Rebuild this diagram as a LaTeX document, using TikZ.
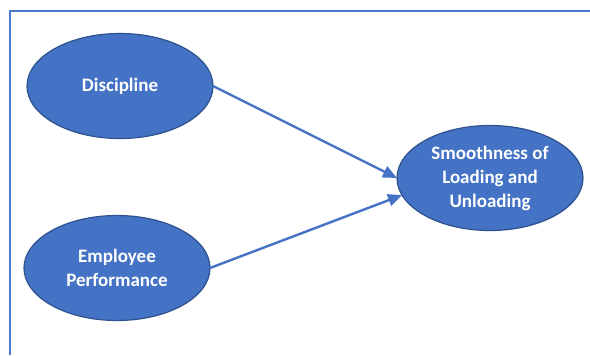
\documentclass[tikz,border=0pt]{standalone}
\usepackage{fontspec}
\setmainfont{Carlito}
\usepackage{xcolor}
\usetikzlibrary{arrows.meta, shapes.geometric, positioning}
\definecolor{varfill}{HTML}{4472C4}
\definecolor{varborder}{HTML}{2F528F}
\definecolor{framecol}{HTML}{4A7BD0}
\tikzset{
  >=latex,
  % Variabili del modello
  var/.style={ellipse,draw=varborder,fill=varfill,line width=0.6pt,text=white,
    font=\bfseries\fontsize{9.5}{12}\selectfont,align=center,
    minimum width=93pt,minimum height=52.5pt,inner sep=0pt,outer sep=0pt},
  % Frecce
  link arrow/.style={-{Triangle[length=7pt,width=6pt]},line width=1.2pt,varfill}
}
\begin{document}
\begin{tikzpicture}[x=0.5pt,y=-0.5pt]
  \useasboundingbox (0,0) rectangle (590,355);
  \fill[white] (0,0) rectangle (590,355);
  \draw[framecol,line width=0.6pt] (10,355) |- (590,11);
  \node[var] (disc) at (120,86) {Discipline};
  \node[var] (emp) at (117,268) {Employee\\Performance};
  \node[var] (smooth) at (490,178) {Smoothness of\\Loading and\\Unloading};
  \draw[link arrow] (disc.east) -- (smooth.west);
  \draw[link arrow] (emp.east) -- (smooth.191);
\end{tikzpicture}
\end{document}
